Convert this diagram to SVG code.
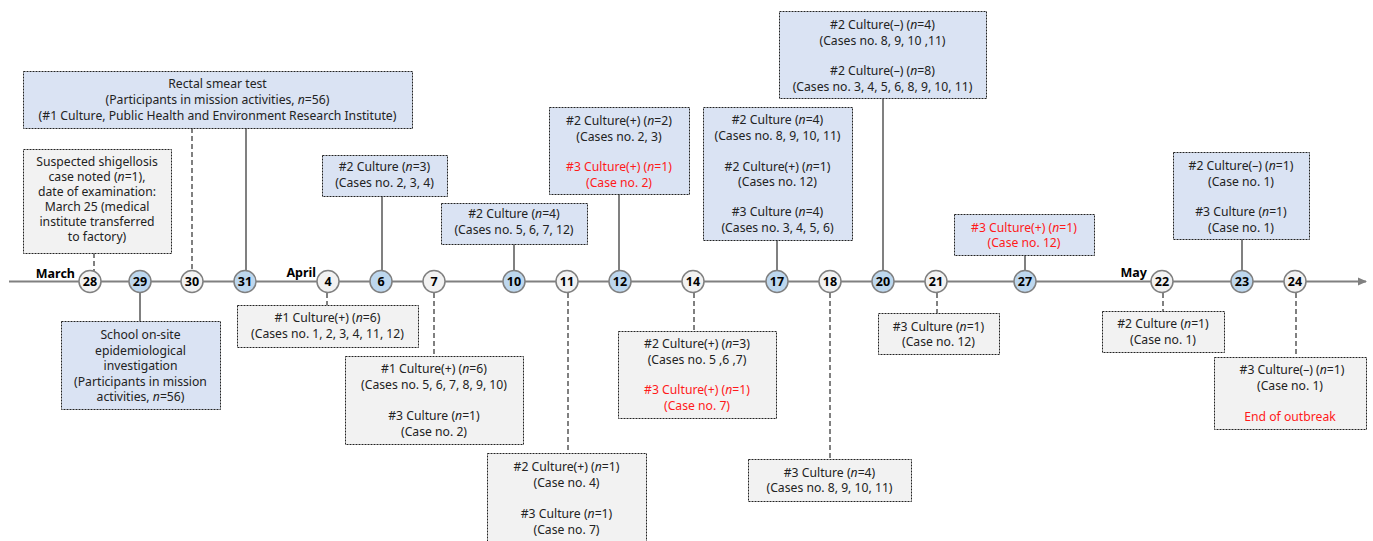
<svg xmlns="http://www.w3.org/2000/svg" width="1373" height="541" viewBox="0 0 1373 541">
<style>
text{font-family:"Noto Sans","Liberation Sans",sans-serif;font-size:12.2px;fill:#222;text-anchor:middle}
.red{fill:#ff1a1a}
.i{font-style:italic}
.blue{fill:#dae3f3;stroke:#222;stroke-width:1;stroke-dasharray:2,1}
.gray{fill:#f2f2f2;stroke:#222;stroke-width:1;stroke-dasharray:2,1}
.solid{stroke:#808080;stroke-width:2;fill:none}
.dash{stroke:#808080;stroke-width:2;fill:none;stroke-dasharray:5,3}
.cb{fill:#bdd7ee;stroke:#808080;stroke-width:1.5}
.cg{fill:#f2f2f2;stroke:#808080;stroke-width:1.5}
.num{font-weight:bold;font-size:12.5px;fill:#000}
.mon{font-weight:bold;font-size:12.5px;fill:#000;text-anchor:end}
</style>
<defs>
<marker id="arr" markerWidth="10" markerHeight="10" refX="8" refY="5" orient="auto" markerUnits="userSpaceOnUse">
<path d="M0,1 L9,5 L0,9 Z" fill="#808080"/>
</marker>
</defs>
<g id="connectors">
<line x1="9" y1="281.5" x2="1366" y2="281.5" class="solid" marker-end="url(#arr)"/>
<line x1="94" y1="253" x2="94" y2="271" class="dash"/>
<line x1="140" y1="292" x2="140" y2="321" class="solid"/>
<line x1="192" y1="128" x2="192" y2="270" class="dash"/>
<line x1="246" y1="128" x2="246" y2="270" class="solid"/>
<line x1="327" y1="293" x2="327" y2="305" class="dash"/>
<line x1="382" y1="196" x2="382" y2="270" class="solid"/>
<line x1="434" y1="293" x2="434" y2="356" class="dash"/>
<line x1="514" y1="244" x2="514" y2="270" class="solid"/>
<line x1="568" y1="293" x2="568" y2="453" class="dash"/>
<line x1="619" y1="194" x2="619" y2="270" class="solid"/>
<line x1="694" y1="293" x2="694" y2="331" class="dash"/>
<line x1="777" y1="240" x2="777" y2="270" class="solid"/>
<line x1="830" y1="293" x2="830" y2="459" class="dash"/>
<line x1="883" y1="98" x2="883" y2="270" class="solid"/>
<line x1="937" y1="293" x2="937" y2="313" class="dash"/>
<line x1="1025" y1="255" x2="1025" y2="270" class="solid"/>
<line x1="1163" y1="293" x2="1163" y2="311" class="dash"/>
<line x1="1242" y1="239" x2="1242" y2="270" class="solid"/>
<line x1="1296" y1="293" x2="1296" y2="357" class="dash"/>
</g>
<g id="months">
<text x="75" y="278" class="mon">March</text>
<text x="316" y="277" class="mon">April</text>
<text x="1147" y="277" class="mon">May</text>
</g>
<g id="dates">
<circle cx="90" cy="281.5" r="11" class="cg"/><text x="90" y="286" class="num">28</text>
<circle cx="140" cy="281.5" r="11" class="cb"/><text x="140" y="286" class="num">29</text>
<circle cx="192" cy="281.5" r="11" class="cg"/><text x="192" y="286" class="num">30</text>
<circle cx="245" cy="281.5" r="11" class="cb"/><text x="245" y="286" class="num">31</text>
<circle cx="328" cy="281.5" r="11" class="cg"/><text x="328" y="286" class="num">4</text>
<circle cx="381" cy="281.5" r="11" class="cb"/><text x="381" y="286" class="num">6</text>
<circle cx="434" cy="281.5" r="11" class="cg"/><text x="434" y="286" class="num">7</text>
<circle cx="514" cy="281.5" r="11" class="cb"/><text x="514" y="286" class="num">10</text>
<circle cx="567" cy="281.5" r="11" class="cg"/><text x="567" y="286" class="num">11</text>
<circle cx="620" cy="281.5" r="11" class="cb"/><text x="620" y="286" class="num">12</text>
<circle cx="693" cy="281.5" r="11" class="cg"/><text x="693" y="286" class="num">14</text>
<circle cx="777" cy="281.5" r="11" class="cb"/><text x="777" y="286" class="num">17</text>
<circle cx="830" cy="281.5" r="11" class="cg"/><text x="830" y="286" class="num">18</text>
<circle cx="883" cy="281.5" r="11" class="cb"/><text x="883" y="286" class="num">20</text>
<circle cx="936" cy="281.5" r="11" class="cg"/><text x="936" y="286" class="num">21</text>
<circle cx="1025" cy="281.5" r="11" class="cb"/><text x="1025" y="286" class="num">27</text>
<circle cx="1162" cy="281.5" r="11" class="cg"/><text x="1162" y="286" class="num">22</text>
<circle cx="1242" cy="281.5" r="11" class="cb"/><text x="1242" y="286" class="num">23</text>
<circle cx="1295" cy="281.5" r="11" class="cg"/><text x="1295" y="286" class="num">24</text>
</g>
<g id="rectal">
<rect x="23.5" y="71.5" width="389" height="57" class="blue"/>
<text x="217.5" y="88">Rectal smear test</text>
<text x="217.5" y="104">(Participants in mission activities, <tspan class="i">n</tspan>=56)</text>
<text x="217.5" y="120">(#1 Culture, Public Health and Environment Research Institute)</text>
</g>
<g id="suspected">
<rect x="23.5" y="149.5" width="148" height="104" class="gray"/>
<text x="97" y="166">Suspected shigellosis</text>
<text x="97" y="181">case noted (<tspan class="i">n</tspan>=1),</text>
<text x="97" y="196">date of examination:</text>
<text x="97" y="211">March 25 (medical</text>
<text x="97" y="226">institute transferred</text>
<text x="97" y="241">to factory)</text>
</g>
<g id="school">
<rect x="61.5" y="321.5" width="159" height="88" class="blue"/>
<text x="140.5" y="339">School on-site</text>
<text x="140.5" y="354.5">epidemiological</text>
<text x="140.5" y="370">investigation</text>
<text x="140.5" y="385.5">(Participants in mission</text>
<text x="140.5" y="401">activities, <tspan class="i">n</tspan>=56)</text>
</g>
<g id="apr4">
<rect x="237.5" y="305.5" width="181" height="42" class="gray"/>
<text x="327.5" y="322">#1 Culture(+) (<tspan class="i">n</tspan>=6)</text>
<text x="327.5" y="338">(Cases no. 1, 2, 3, 4, 11, 12)</text>
</g>
<g id="apr6">
<rect x="322.5" y="155.5" width="125" height="41" class="blue"/>
<text x="384.5" y="171">#2 Culture (<tspan class="i">n</tspan>=3)</text>
<text x="384.5" y="187">(Cases no. 2, 3, 4)</text>
</g>
<g id="apr7">
<rect x="345.5" y="356.5" width="178" height="88" class="gray"/>
<text x="434" y="373">#1 Culture(+) (<tspan class="i">n</tspan>=6)</text>
<text x="434" y="389">(Cases no. 5, 6, 7, 8, 9, 10)</text>
<text x="434" y="420">#3 Culture (<tspan class="i">n</tspan>=1)</text>
<text x="434" y="436">(Case no. 2)</text>
</g>
<g id="apr10">
<rect x="441.5" y="203.5" width="146" height="41" class="blue"/>
<text x="514" y="218">#2 Culture (<tspan class="i">n</tspan>=4)</text>
<text x="514" y="234">(Cases no. 5, 6, 7, 12)</text>
</g>
<g id="apr11">
<rect x="487.5" y="453.5" width="159" height="95" class="gray"/>
<text x="566.5" y="471">#2 Culture(+) (<tspan class="i">n</tspan>=1)</text>
<text x="566.5" y="487">(Case no. 4)</text>
<text x="566.5" y="518">#3 Culture (<tspan class="i">n</tspan>=1)</text>
<text x="566.5" y="534">(Case no. 7)</text>
</g>
<g id="apr12">
<rect x="549.5" y="107.5" width="140" height="87" class="blue"/>
<text x="619" y="125">#2 Culture(+) (<tspan class="i">n</tspan>=2)</text>
<text x="619" y="140.5">(Cases no. 2, 3)</text>
<text x="619" y="171" class="red">#3 Culture(+) (<tspan class="i">n</tspan>=1)</text>
<text x="619" y="186.5" class="red">(Case no. 2)</text>
</g>
<g id="apr14">
<rect x="618.5" y="331.5" width="158" height="87" class="gray"/>
<text x="697" y="348">#2 Culture(+) (<tspan class="i">n</tspan>=3)</text>
<text x="697" y="364">(Cases no. 5 ,6 ,7)</text>
<text x="697" y="394" class="red">#3 Culture(+) (<tspan class="i">n</tspan>=1)</text>
<text x="697" y="410" class="red">(Case no. 7)</text>
</g>
<g id="apr17">
<rect x="703.5" y="107.5" width="149" height="133" class="blue"/>
<text x="777.5" y="124">#2 Culture (<tspan class="i">n</tspan>=4)</text>
<text x="777.5" y="140">(Cases no. 8, 9, 10, 11)</text>
<text x="777.5" y="170.5">#2 Culture(+) (<tspan class="i">n</tspan>=1)</text>
<text x="777.5" y="186">(Cases no. 12)</text>
<text x="777.5" y="216">#3 Culture (<tspan class="i">n</tspan>=4)</text>
<text x="777.5" y="231.5">(Cases no. 3, 4, 5, 6)</text>
</g>
<g id="apr18">
<rect x="748.5" y="459.5" width="163" height="42" class="gray"/>
<text x="829.5" y="476.5">#3 Culture (<tspan class="i">n</tspan>=4)</text>
<text x="829.5" y="492">(Cases no. 8, 9, 10, 11)</text>
</g>
<g id="apr20">
<rect x="779.5" y="11.5" width="207" height="87" class="blue"/>
<text x="882.5" y="29">#2 Culture(–) (<tspan class="i">n</tspan>=4)</text>
<text x="882.5" y="44.5">(Cases no. 8, 9, 10 ,11)</text>
<text x="882.5" y="75">#2 Culture(–) (<tspan class="i">n</tspan>=8)</text>
<text x="882.5" y="90.5">(Cases no. 3, 4, 5, 6, 8, 9, 10, 11)</text>
</g>
<g id="apr21">
<rect x="878.5" y="313.5" width="121" height="41" class="gray"/>
<text x="938.5" y="330.5">#3 Culture (<tspan class="i">n</tspan>=1)</text>
<text x="938.5" y="346">(Case no. 12)</text>
</g>
<g id="apr27">
<rect x="954.5" y="214.5" width="140" height="41" class="blue"/>
<text x="1024" y="231.5" class="red">#3 Culture(+) (<tspan class="i">n</tspan>=1)</text>
<text x="1024" y="247" class="red">(Case no. 12)</text>
</g>
<g id="may22">
<rect x="1102.5" y="311.5" width="122" height="41" class="gray"/>
<text x="1163" y="328">#2 Culture (<tspan class="i">n</tspan>=1)</text>
<text x="1163" y="344">(Case no. 1)</text>
</g>
<g id="may23">
<rect x="1173.5" y="152.5" width="136" height="87" class="blue"/>
<text x="1241" y="170">#2 Culture(–) (<tspan class="i">n</tspan>=1)</text>
<text x="1241" y="186">(Case no. 1)</text>
<text x="1241" y="216">#3 Culture (<tspan class="i">n</tspan>=1)</text>
<text x="1241" y="232">(Case no. 1)</text>
</g>
<g id="may24">
<rect x="1214.5" y="357.5" width="152" height="72" class="gray"/>
<text x="1292" y="374">#3 Culture(–) (<tspan class="i">n</tspan>=1)</text>
<text x="1290" y="390">(Case no. 1)</text>
<text x="1290" y="421" class="red">End of outbreak</text>
</g>
</svg>
